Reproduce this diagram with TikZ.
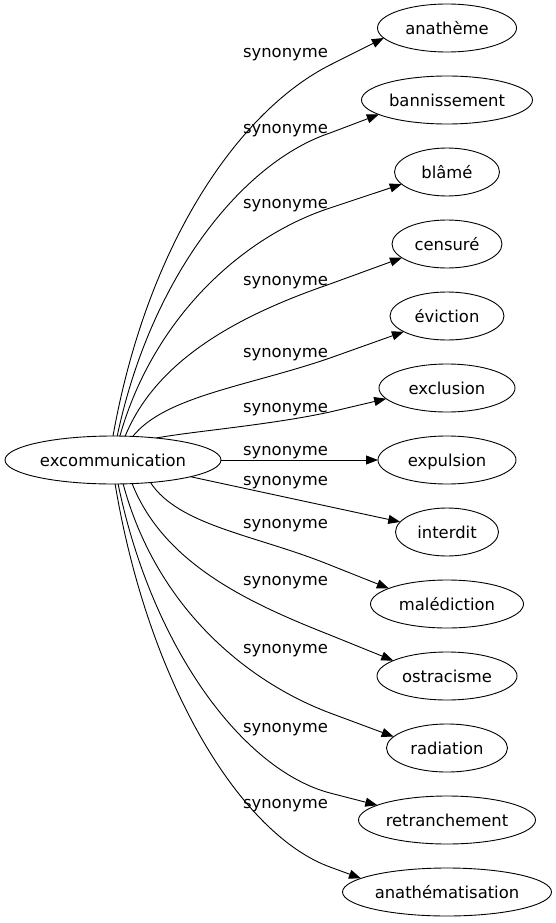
\documentclass[tikz,border=0pt]{standalone}
\usepackage{fontspec}
\setmainfont{DejaVu Sans}
\usetikzlibrary{shapes.geometric}
\usetikzlibrary{positioning}
\usetikzlibrary{arrows.meta}
\tikzset{>={Triangle[length=12pt,width=9pt]}}
\tikzset{
  word/.style={ellipse,draw,line width=0.9pt,inner sep=0pt,outer sep=0pt,minimum height=48pt,text height=16pt,text depth=3.5pt,font=\fontsize{16.4pt}{19pt}\selectfont},
  syn/.style={->,line width=0.9pt},
  synlabel/.style={anchor=base,inner sep=0pt,font=\fontsize{16.4pt}{19pt}\selectfont},
}

\begin{document}
\begin{tikzpicture}[x=1pt,y=-1pt]
    \useasboundingbox (0,0) rectangle (555,923);
    \node[word,minimum width=139pt] (anatheme) at (447,28) {anathème};
    \node[word,minimum width=171pt,below=24pt of anatheme] (bannissement) {bannissement};
    \node[word,minimum width=105pt,below=24pt of bannissement] (blame) {blâmé};
    \node[word,minimum width=110pt,below=24pt of blame] (censure) {censuré};
    \node[word,minimum width=114pt,below=24pt of censure] (eviction) {éviction};
    \node[word,minimum width=136pt,below=24pt of eviction] (exclusion) {exclusion};
    \node[word,minimum width=138pt,below=24pt of exclusion] (expulsion) {expulsion};
    \node[word,minimum width=103pt,below=24pt of expulsion] (interdit) {interdit};
    \node[word,minimum width=153pt,below=24pt of interdit] (malediction) {malédiction};
    \node[word,minimum width=140pt,below=24pt of malediction] (ostracisme) {ostracisme};
    \node[word,minimum width=121pt,below=24pt of ostracisme] (radiation) {radiation};
    \node[word,minimum width=177pt,below=24pt of radiation] (retranchement) {retranchement};
    \node[word,minimum width=209pt,below=24pt of retranchement] (anathematisation) {anathématisation};
    \node[word,minimum width=216pt,left=157pt of expulsion] (excom) {excommunication};
    % relation labels
    \node[synlabel] (syn1) at (285.5,58) {synonyme};
    \node[synlabel] (syn2) at (285.5,133) {synonyme};
    \node[synlabel] (syn3) at (285.5,208) {synonyme};
    \node[synlabel] (syn4) at (285.5,285) {synonyme};
    \node[synlabel] (syn5) at (285.5,357) {synonyme};
    \node[synlabel] (syn6) at (285.5,412) {synonyme};
    \node[synlabel] (syn7) at (285.5,455) {synonyme};
    \node[synlabel] (syn8) at (285.5,485) {synonyme};
    \node[synlabel] (syn9) at (285.5,528) {synonyme};
    \node[synlabel] (syn10) at (285.5,585) {synonyme};
    \node[synlabel] (syn11) at (285.5,653) {synonyme};
    \node[synlabel] (syn12) at (285.5,732) {synonyme};
    \node[synlabel] (syn13) at (285.5,808) {synonyme};
    % edges
    \draw[syn] (excom.90) .. controls (148,240) and (241,110) .. (330,65) -- (anatheme.189);
    \draw[syn] (excom.80) .. controls (151,276) and (243,162) .. (330,133) -- (bannissement.192);
    \draw[syn] (excom.74) .. controls (154,316) and (244,236) .. (330,208) -- (blame.195);
    \draw[syn] (excom.63) .. controls (158,356) and (246,313) .. (330,284) -- (censure.197);
    \draw[syn] (excom.50) .. controls (165,396) and (249,386) .. (330,358) -- (eviction.200);
    \draw[syn] (excom.27) .. controls (195,431) and (270,425) .. (330,412) -- (exclusion.190);
    \draw[syn] (excom) -- (expulsion);
    \draw[syn] (excom) -- (interdit);
    \draw[syn] (excom.329) .. controls (179,526) and (256,535) .. (330,565) -- (malediction.165);
    \draw[syn] (excom.309) .. controls (164,564) and (249,603) .. (330,635) -- (ostracisme.164);
    \draw[syn] (excom.293) .. controls (156,606) and (245,681) .. (330,713) -- (radiation.168);
    \draw[syn] (excom.282) .. controls (152,648) and (243,770) .. (330,793) -- (retranchement.168);
    \draw[syn] (excom.275) .. controls (149,687) and (242,835) .. (330,867) -- (anathematisation.171);
\end{tikzpicture}
\end{document}
